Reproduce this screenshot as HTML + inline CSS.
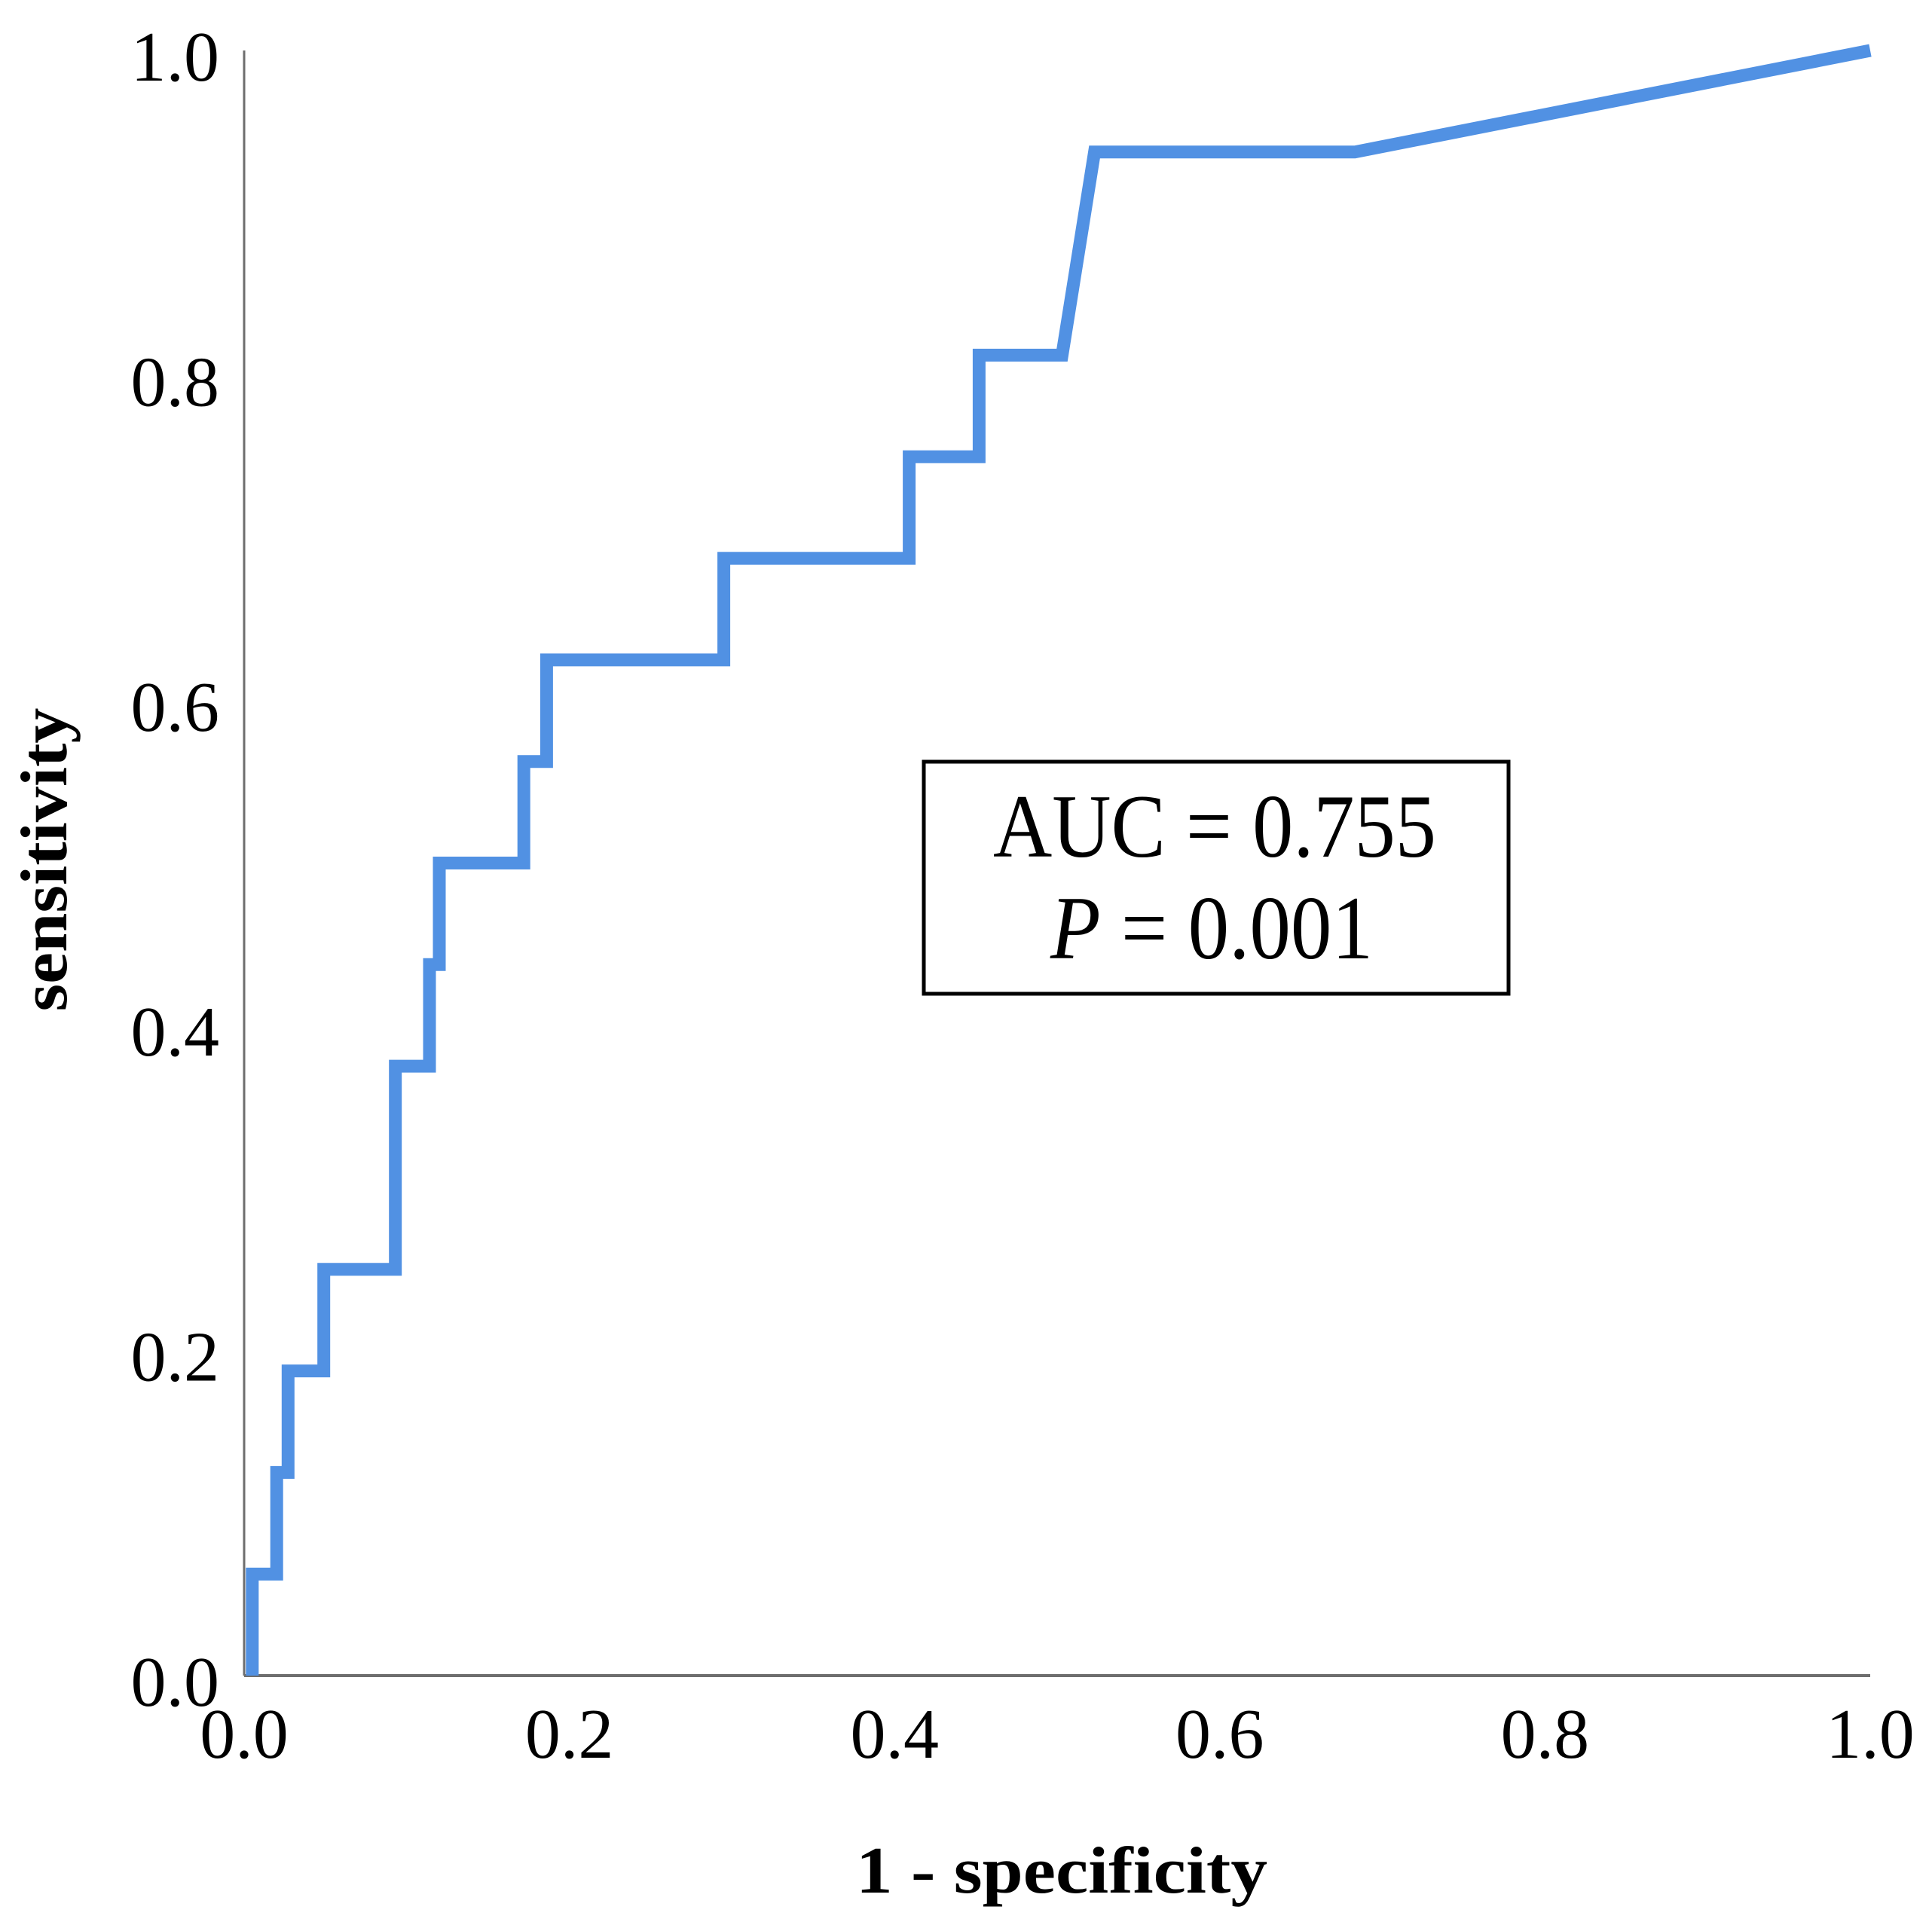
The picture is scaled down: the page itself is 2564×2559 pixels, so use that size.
<!DOCTYPE html>
<html><head><meta charset="utf-8"><style>
html,body{margin:0;padding:0;background:#fff;}
svg{display:block;}
text{font-family:"Liberation Serif",serif;fill:#000;}
</style></head><body>
<svg id="chart" width="2564" height="2559" viewBox="0 0 2564 2559" xmlns="http://www.w3.org/2000/svg">
<g id="axes"></g>
<g id="series"></g>
<g>
<rect x="1226" y="1011" width="776" height="308" fill="#fff" stroke="#000" stroke-width="5"/>
<text x="1612" y="1137" font-size="120" text-anchor="middle" textLength="588" lengthAdjust="spacingAndGlyphs">AUC = 0.755</text>
<text x="1608" y="1272" font-size="120" text-anchor="middle" textLength="428" lengthAdjust="spacingAndGlyphs"><tspan font-style="italic">P</tspan> = 0.001</text>
</g>
<text x="1409" y="2512" font-size="88" font-weight="bold" text-anchor="middle" textLength="546" lengthAdjust="spacingAndGlyphs">1 - specificity</text>
<text transform="translate(88,1141) rotate(-90)" font-size="88" font-weight="bold" text-anchor="middle" textLength="403" lengthAdjust="spacingAndGlyphs">sensitivity</text>
</svg>
<script>
const fprValues = [0.005, 0.005, 0.020, 0.020, 0.027, 0.027, 0.049, 0.049, 0.093, 0.093, 0.114, 0.114, 0.120, 0.120, 0.172, 0.172, 0.186, 0.186, 0.295, 0.295, 0.409, 0.409, 0.452, 0.452, 0.503, 0.523, 0.683, 1.0];
const tprValues = [0, 0.0625, 0.0625, 0.125, 0.125, 0.1875, 0.1875, 0.25, 0.25, 0.375, 0.375, 0.4375, 0.4375, 0.5, 0.5, 0.5625, 0.5625, 0.625, 0.625, 0.6875, 0.6875, 0.75, 0.75, 0.8125, 0.8125, 0.9375, 0.9375, 1.0];
const xTickLabels = ["0.0", "0.2", "0.4", "0.6", "0.8", "1.0"];
const yTickLabels = ["0.0", "0.2", "0.4", "0.6", "0.8", "1.0"];

const NS = "http://www.w3.org/2000/svg";
const X0 = 324, X1 = 2482, Y0 = 2224, Y1 = 67;
function xs(v){ return X0 + v * (X1 - X0); }
function ys(v){ return Y0 - v * (Y0 - Y1); }

const axes = document.getElementById('axes');
const series = document.getElementById('series');

const yAxis = document.createElementNS(NS, 'line');


yAxis.setAttribute('x1', X0); yAxis.setAttribute('x2', X0);
yAxis.setAttribute('y1', Y1); yAxis.setAttribute('y2', Y0);
yAxis.setAttribute('stroke', '#6e6e6e'); yAxis.setAttribute('stroke-width', '3');
axes.appendChild(yAxis);

const xAxis = document.createElementNS(NS, 'line');


xAxis.setAttribute('x1', X0); xAxis.setAttribute('x2', X1);
xAxis.setAttribute('y1', Y0); xAxis.setAttribute('y2', Y0);
xAxis.setAttribute('stroke', '#6e6e6e'); xAxis.setAttribute('stroke-width', '4');
axes.appendChild(xAxis);

xTickLabels.forEach(function(lab){
  const t = document.createElementNS(NS, 'text');
  
  
  t.setAttribute('x', xs(parseFloat(lab)));
  t.setAttribute('y', 2333);
  t.setAttribute('font-size', '94');
  t.setAttribute('text-anchor', 'middle');
  t.textContent = lab;
  axes.appendChild(t);
});
yTickLabels.forEach(function(lab){
  const t = document.createElementNS(NS, 'text');
  
  
  t.setAttribute('x', 291);
  t.setAttribute('y', ys(parseFloat(lab)) + 40);
  t.setAttribute('font-size', '94');
  t.setAttribute('text-anchor', 'end');
  t.textContent = lab;
  axes.appendChild(t);
});

let d = '';
for (let i = 0; i < fprValues.length; i++) {
  d += (i === 0 ? 'M' : 'L') + xs(fprValues[i]).toFixed(1) + ' ' + ys(tprValues[i]).toFixed(1) + ' ';
}
const path = document.createElementNS(NS, 'path');


path.setAttribute('d', d);
path.setAttribute('fill', 'none');
path.setAttribute('stroke', '#5191e3');
path.setAttribute('stroke-width', '17');
path.setAttribute('stroke-linejoin', 'miter');
series.appendChild(path);
</script>
</body></html>
